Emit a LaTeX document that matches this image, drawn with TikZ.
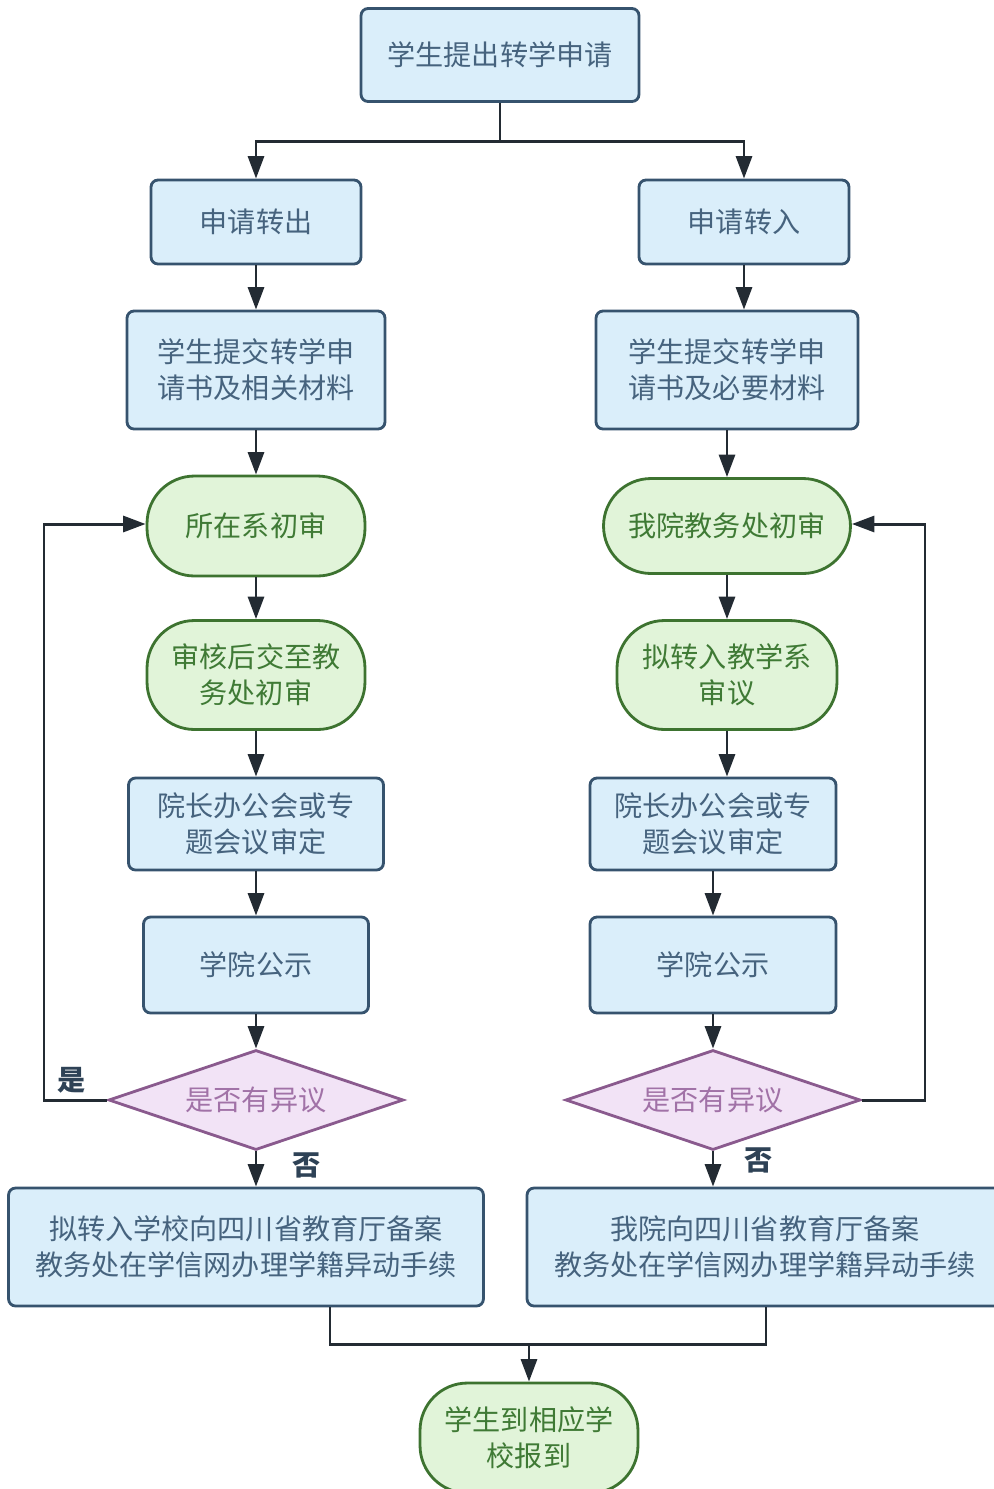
\documentclass[tikz,border=0pt]{standalone}
\usepackage{fontspec}
\setmainfont{Noto Sans CJK SC}
\usepackage{xcolor}
\usetikzlibrary{arrows.meta,shapes.geometric}

\definecolor{bluefill}{HTML}{DAEEFA}
\definecolor{blueline}{HTML}{36536E}
\definecolor{bluetext}{HTML}{46637E}
\definecolor{greenfill}{HTML}{E1F4D9}
\definecolor{greenline}{HTML}{3D7330}
\definecolor{greentext}{HTML}{3F7A35}
\definecolor{purpfill}{HTML}{F2E3F6}
\definecolor{purpline}{HTML}{8A5A8E}
\definecolor{purptext}{HTML}{A172A7}
\definecolor{linec}{HTML}{232B33}
\definecolor{labelc}{HTML}{2E4256}

\tikzset{
  bluebox/.style={draw=blueline, fill=bluefill, text=bluetext, line width=1.6pt, rounded corners=0.14cm, align=center},
  greenbox/.style={draw=greenline, fill=greenfill, text=greentext, line width=1.6pt, rounded corners=0.95cm, align=center},
  askbox/.style={diamond, draw=purpline, fill=purpfill, text=purptext, line width=1.6pt, aspect=2.95, inner sep=0pt, minimum width=5.9cm, minimum height=2cm},
  flow/.style={draw=linec, line width=1.7pt},
  mark label/.style={text=labelc, font=\fontsize{16}{20}\selectfont\bfseries}
}

\begin{document}
\begin{tikzpicture}[x=0.02cm, y=-0.02cm, >={Triangle[length=0.45cm,width=0.32cm]},
    font=\fontsize{16}{20.5}\selectfont]
    \clip (0,0) rectangle (994,1489);
    \useasboundingbox (0,0) rectangle (994,1489);
    % top and the two branches
    \node [bluebox, minimum width=5.56cm, minimum height=1.86cm] (apply) at (500,55) {学生提出转学申请};
    \node [bluebox, minimum width=4.2cm, minimum height=1.68cm] (outA) at (256,222) {申请转出};
    \node [bluebox, minimum width=4.2cm, minimum height=1.68cm] (inA) at (744,222) {申请转入};
    \node [bluebox, minimum width=5.16cm, minimum height=2.36cm] (outB) at (256,370) {学生提交转学申\\请书及相关材料};
    \node [bluebox, minimum width=5.24cm, minimum height=2.36cm] (inB) at (727,370) {学生提交转学申\\请书及必要材料};
    \node [greenbox, minimum width=4.36cm, minimum height=2cm] (outC) at (256,526) {所在系初审};
    \node [greenbox, minimum width=4.94cm, minimum height=1.9cm] (inC) at (727,526) {我院教务处初审};
    \node [greenbox, minimum width=4.36cm, minimum height=2.18cm] (outD) at (256,675) {审核后交至教\\务处初审};
    \node [greenbox, minimum width=4.4cm, minimum height=2.18cm] (inD) at (727,675) {拟转入教学系\\审议};
    \node [bluebox, minimum width=5.1cm, minimum height=1.84cm] (outE) at (256,824) {院长办公会或专\\题会议审定};
    \node [bluebox, minimum width=4.92cm, minimum height=1.84cm] (inE) at (713,824) {院长办公会或专\\题会议审定};
    \node [bluebox, minimum width=4.5cm, minimum height=1.92cm] (outF) at (256,965) {学院公示};
    \node [bluebox, minimum width=4.92cm, minimum height=1.92cm] (inF) at (713,965) {学院公示};
    \node [askbox] (outQ) at (256,1100) {是否有异议};
    \node [askbox] (inQ) at (713,1100) {是否有异议};
    \node [bluebox, minimum width=9.5cm, minimum height=2.36cm] (outG) at (246,1247) {拟转入学校向四川省教育厅备案\\教务处在学信网办理学籍异动手续};
    \node [bluebox, minimum width=9.52cm, minimum height=2.36cm] (inG) at (765,1247) {我院向四川省教育厅备案\\教务处在学信网办理学籍异动手续};
    \node [greenbox, minimum width=4.36cm, minimum height=2.2cm] (report) at (529,1438) {学生到相应学\\校报到};

    % connectors
    \coordinate (split) at (500,141);
    \coordinate (join) at (529,1344);
    \draw [flow] (apply) -- (split);
    \draw [flow, ->] (split) -| (outA);
    \draw [flow, ->] (split) -| (inA);
    \draw [flow, ->] (outA) -- (outB);
    \draw [flow, ->] (outB) -- (outC);
    \draw [flow, ->] (outC) -- (outD);
    \draw [flow, ->] (outD) -- (outE);
    \draw [flow, ->] (outE) -- (outF);
    \draw [flow, ->] (outF) -- (outQ);
    \draw [flow, ->] (outQ) -- (outQ |- outG.north);
    \draw [flow, ->] (inA) -- (inA |- inB.north);
    \draw [flow, ->] (inB) -- (inB |- inC.north);
    \draw [flow, ->] (inC) -- (inD);
    \draw [flow, ->] (inD) -- (inD |- inE.north);
    \draw [flow, ->] (inE) -- (inF);
    \draw [flow, ->] (inF) -- (inQ);
    \draw [flow, ->] (inQ) -- (inQ |- inG.north);
    % loops back on objection
    \draw [flow, ->] (outQ.west) -| (44,524) -- (outC.west |- 0,524);
    \draw [flow, ->] (inQ.east) -| (925,524) -- (inC.east |- 0,524);
    \node [mark label] (yesL) at (72,1080) {是};
    \node [mark label] (noL) at (307,1165) {否};
    \node [mark label] (noR) at (759,1160) {否};
    % merge
    \draw [flow] (outG.south -| 330,0) |- (join);
    \draw [flow] (inG.south -| 766,0) |- (join);
    \draw [flow, ->] (join) -- (report);
\end{tikzpicture}
\end{document}
